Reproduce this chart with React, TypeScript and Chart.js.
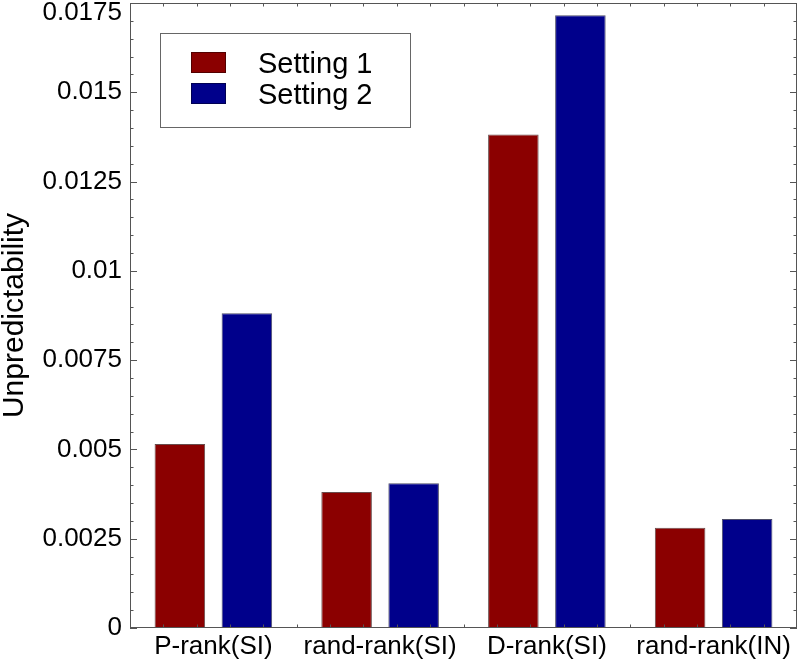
import React, { useEffect, useRef } from "react";
import { Chart, registerables } from "chart.js";

Chart.register(...registerables);

const categories = ["P-rank(SI)", "rand-rank(SI)", "D-rank(SI)", "rand-rank(IN)"];
const seriesNames = ["Setting 1", "Setting 2"];
const setting1 = [0.00515, 0.00381, 0.01382, 0.00281];
const setting2 = [0.00881, 0.00405, 0.01716, 0.00305];
const seriesColors = ["#8b0000", "#00008b"];
const yTickValues = [0, 0.0025, 0.005, 0.0075, 0.01, 0.0125, 0.015, 0.0175];
const yTickLabels = ["0", "0.0025", "0.005", "0.0075", "0.01", "0.0125", "0.015", "0.0175"];
const Y_MAX = 0.0175;
const Y_MINOR = 0.0005;
const X_MINOR = 0.2;

const FONT = '"Liberation Sans", Arial, Helvetica, sans-serif';

const framePlugin = {
  id: "frame",
  afterDraw(chart: any) {
    const { ctx, chartArea: a, scales } = chart;
    const xs = scales.x;
    const ys = scales.y;
    ctx.save();
    ctx.strokeStyle = "#555";
    ctx.lineWidth = 1;
    ctx.strokeRect(a.left + 0.5, a.top + 0.5, a.right - a.left - 1, a.bottom - a.top - 1);

    // y ticks (inward, both sides)
    const nMinor = Math.round(Y_MAX / Y_MINOR);
    for (let i = 0; i <= nMinor; i++) {
      const v = i * Y_MINOR;
      const y = Math.round(ys.getPixelForValue(v)) + 0.5;
      const major = i % 5 === 0;
      const L = major ? 7 : 3.5;
      ctx.beginPath();
      ctx.moveTo(a.left, y);
      ctx.lineTo(a.left + L, y);
      ctx.moveTo(a.right, y);
      ctx.lineTo(a.right - L, y);
      ctx.stroke();
    }

    // x ticks (inward, top and bottom)
    const p0 = xs.getPixelForValue(0);
    const unit = xs.getPixelForValue(1) - p0;
    const nX = Math.round(categories.length / X_MINOR);
    for (let k = 1; k < nX; k++) {
      const v = -0.5 + k * X_MINOR;
      const major = Math.abs(v - Math.round(v)) < 1e-6;
      const x = Math.round(p0 + v * unit) + 0.5;
      const L = major ? 7 : 3.5;
      ctx.beginPath();
      ctx.moveTo(x, a.bottom);
      ctx.lineTo(x, a.bottom - L);
      ctx.moveTo(x, a.top);
      ctx.lineTo(x, a.top + L);
      ctx.stroke();
    }

    // y tick labels
    ctx.fillStyle = "#000";
    ctx.font = `26px ${FONT}`;
    ctx.textAlign = "right";
    ctx.textBaseline = "middle";
    yTickValues.forEach((v, i) => {
      let y = ys.getPixelForValue(v);
      y = Math.max(y, a.top + 10);
      ctx.fillText(yTickLabels[i], a.left - 8, y);
    });

    // legend
    const bx = a.left + 30;
    const by = a.top + 30;
    ctx.fillStyle = "#fff";
    ctx.fillRect(bx, by, 250, 94);
    ctx.strokeStyle = "#666";
    ctx.strokeRect(bx + 0.5, by + 0.5, 250, 94);
    chart.data.datasets.forEach((ds: any, i: number) => {
      const sy = by + 19 + i * 31;
      ctx.fillStyle = ds.backgroundColor;
      ctx.fillRect(bx + 31, sy, 35, 21);
      ctx.strokeStyle = "rgba(0,0,0,0.4)";
      ctx.strokeRect(bx + 31.5, sy + 0.5, 34, 20);
      ctx.fillStyle = "#000";
      ctx.font = `29px ${FONT}`;
      ctx.textAlign = "left";
      ctx.textBaseline = "alphabetic";
      ctx.fillText(ds.label, bx + 98, sy + 21);
    });
    ctx.restore();
  },
};

export default function App() {
  const ref = useRef<HTMLCanvasElement | null>(null);
  useEffect(() => {
    if (!ref.current) return;
    const chart = new Chart(ref.current, {
      type: "bar",
      data: {
        labels: categories,
        datasets: [
          {
            label: seriesNames[0],
            data: setting1,
            backgroundColor: seriesColors[0],
            borderColor: "rgba(40,0,0,0.7)",
            borderWidth: 1,
            categoryPercentage: 0.804,
            barPercentage: 0.754,
          },
          {
            label: seriesNames[1],
            data: setting2,
            backgroundColor: seriesColors[1],
            borderColor: "rgba(0,0,40,0.7)",
            borderWidth: 1,
            categoryPercentage: 0.804,
            barPercentage: 0.754,
          },
        ],
      },
      options: {
        responsive: false,
        animation: false,
        layout: { padding: { top: 3, right: 3, left: 0, bottom: 0 } },
        plugins: { legend: { display: false }, tooltip: { enabled: false } },
        scales: {
          x: {
            grid: { display: false, drawTicks: false },
            border: { display: false },
            ticks: { color: "#000", font: { family: FONT, size: 26 }, padding: 3, maxRotation: 0 },
            afterFit: (s: any) => {
              s.height = 33;
            },
          },
          y: {
            min: 0,
            max: Y_MAX,
            grid: { display: false, drawTicks: false },
            border: { display: false },
            ticks: { display: false },
            title: {
              display: true,
              text: "Unpredictability",
              color: "#000",
              font: { family: FONT, size: 30, lineHeight: 1 },
              padding: { top: 0, bottom: 0 },
            },
            afterFit: (s: any) => {
              s.width = 130;
            },
          },
        },
      },
      plugins: [framePlugin],
    });
    return () => chart.destroy();
  }, []);
  return (
    <div style={{ position: "absolute", left: 0, top: 0, width: 800, height: 661, background: "#fff" }}>
      <canvas ref={ref} width={800} height={661} />
    </div>
  );
}
